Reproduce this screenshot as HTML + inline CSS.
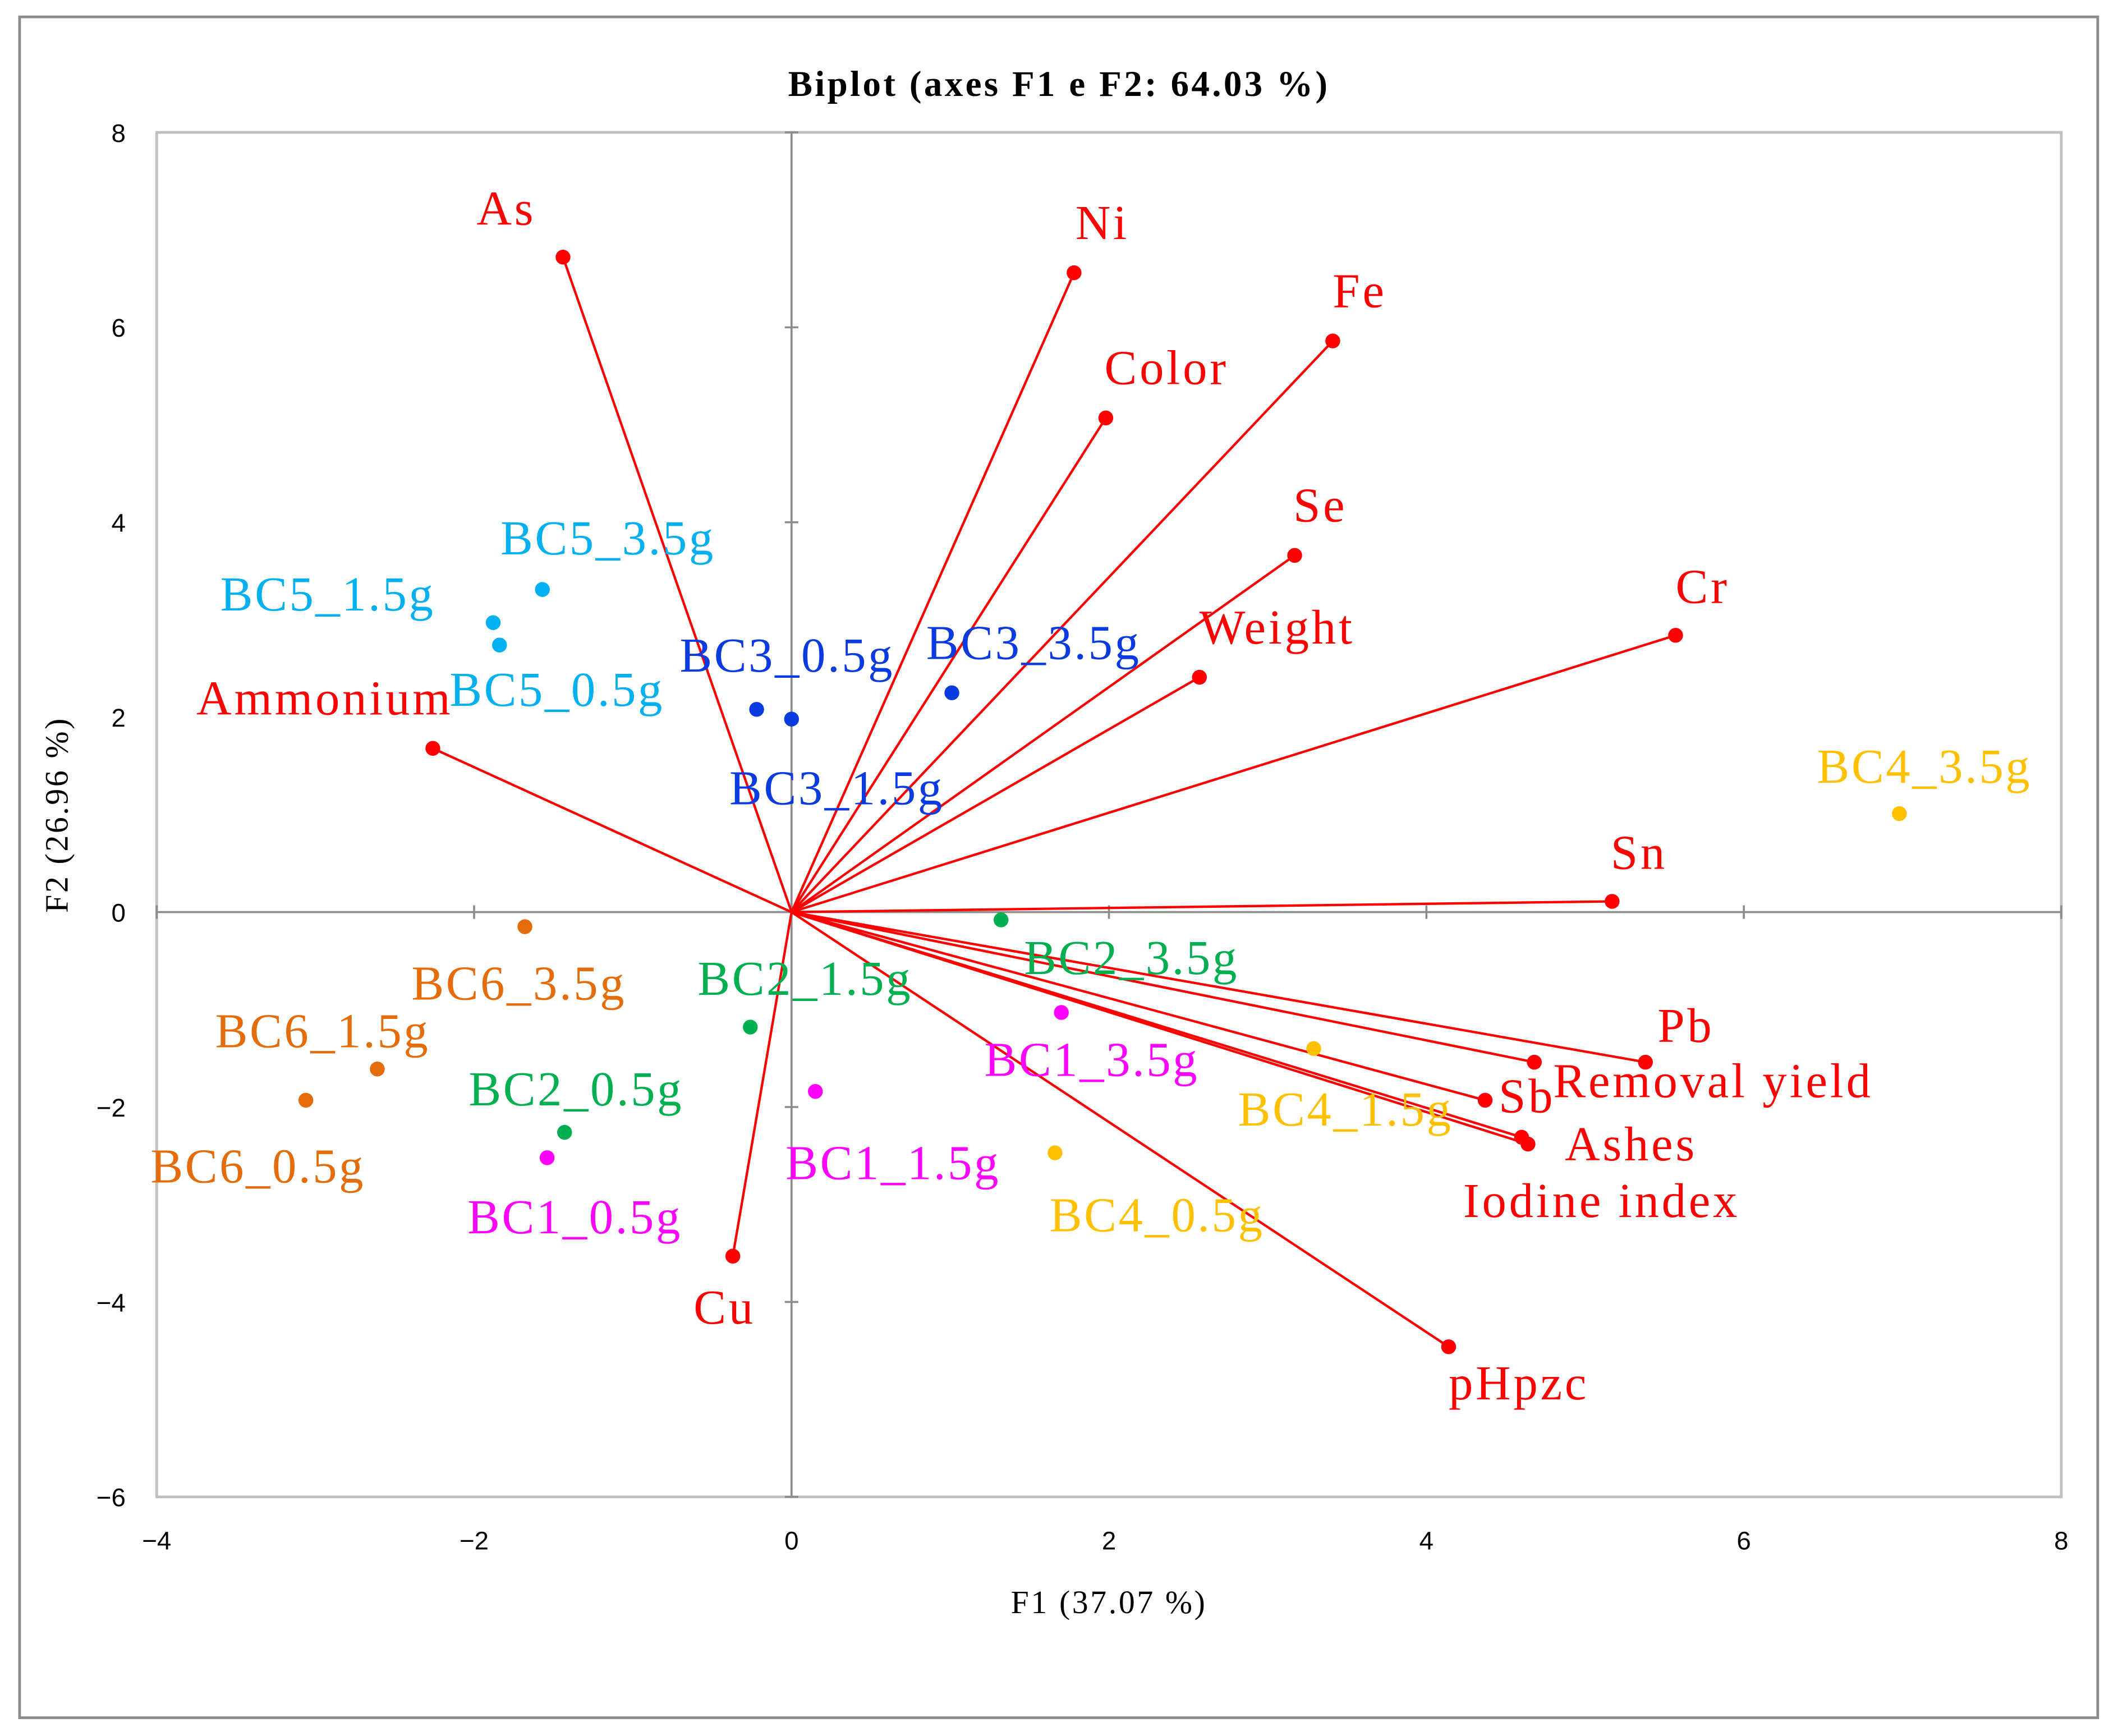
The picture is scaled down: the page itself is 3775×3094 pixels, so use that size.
<!DOCTYPE html>
<html><head><meta charset="utf-8"><style>
html,body{margin:0;padding:0;background:#fff;}
svg{display:block;}
</style></head><body>
<svg id="chart" xmlns="http://www.w3.org/2000/svg" width="3775" height="3094" viewBox="0 0 1568 1285" preserveAspectRatio="none">
<rect x="0" y="0" width="1568" height="1285" fill="#fff"/>
<rect x="14.5" y="12.5" width="1538.5" height="1259" fill="none" stroke="#8c8c8c" stroke-width="2"/>
<rect x="116" y="98" width="1410" height="1010" fill="none" stroke="#c0c0c0" stroke-width="2"/>
<text x="784" y="71" text-anchor="middle" font-family="Liberation Serif, serif" font-weight="bold" font-size="27" letter-spacing="1.8">Biplot (axes F1 e F2: 64.03 %)</text>
<text x="821" y="1194" text-anchor="middle" font-family="Liberation Serif, serif" font-size="24" letter-spacing="1.5">F1 (37.07 %)</text>
<text transform="translate(50,603) rotate(-90)" text-anchor="middle" font-family="Liberation Serif, serif" font-size="24" letter-spacing="1.5">F2 (26.96 %)</text>
<g id="axes"></g>
<g id="vectors"></g>
<g id="obs"></g>
</svg>
<script>
const xTicks=[-4,-2,0,2,4,6,8];
const yTicks=[8,6,4,2,0,-2,-4,-6];
const varNames=["As","Ni","Fe","Color","Se","Cr","Weight","Ammonium","Sn","Pb","Removal yield","Sb","Ashes","Iodine index","pHpzc","Cu"];
const varF1=[-1.44,1.78,3.41,1.98,3.17,5.57,2.57,-2.26,5.17,5.38,4.68,4.37,4.60,4.64,4.14,-0.37];
const varF2=[6.72,6.56,5.86,5.07,3.66,2.84,2.41,1.68,0.11,-1.54,-1.54,-1.93,-2.31,-2.38,-4.46,-3.53];
const varLabelDx=[-64,1,0,-1,-1,0,0,-175,-1,9,14,10,32,-48,0,-29];
const varLabelDy=[-24,-25,-25,-25,-25,-24,-25,-25,-24,-15,26,9,17,54,39,50];
const obsNames=["BC5_3.5g","BC5_1.5g","BC5_0.5g","BC3_0.5g","BC3_1.5g","BC3_3.5g","BC4_3.5g","BC4_1.5g","BC4_0.5g","BC2_3.5g","BC2_1.5g","BC2_0.5g","BC1_3.5g","BC1_1.5g","BC1_0.5g","BC6_3.5g","BC6_1.5g","BC6_0.5g"];
const obsF1=[-1.57,-1.88,-1.84,-0.22,0,1.01,6.98,3.29,1.66,1.32,-0.26,-1.43,1.70,0.15,-1.54,-1.68,-2.61,-3.06];
const obsF2=[3.31,2.97,2.74,2.08,1.98,2.25,1.01,-1.40,-2.47,-0.08,-1.18,-2.26,-1.03,-1.84,-2.52,-0.15,-1.61,-1.93];
const obsColors=["#00b0f0","#00b0f0","#00b0f0","#0a3be0","#0a3be0","#0a3be0","#ffc000","#ffc000","#ffc000","#00b050","#00b050","#00b050","#ff00ff","#ff00ff","#ff00ff","#e46c0a","#e46c0a","#e46c0a"];
const obsLabelDx=[-31,-202,-37,-57,-46,-19,-61,-56,-4,17,-39,-71,-57,-22,-59,-84,-120,-115];
const obsLabelDy=[-26,-9,45,-28,63,-25,-23,57,58,40,-24,-20,47,65,56,54,-16,61];

const NS="http://www.w3.org/2000/svg";
const L=116,R=1526,T=98,B=1108,XMIN=-4,XMAX=8,YMIN=-6,YMAX=8;
function sx(v){return L+(v-XMIN)/(XMAX-XMIN)*(R-L);}
function sy(v){return B-(v-YMIN)/(YMAX-YMIN)*(B-T);}
function mk(tag,attrs,parent){const e=document.createElementNS(NS,tag);for(const k in attrs)e.setAttribute(k,attrs[k]);parent.appendChild(e);return e;}
const axes=document.getElementById('axes'),vec=document.getElementById('vectors'),obs=document.getElementById('obs');
let zx=mk('line',{x1:sx(0),x2:sx(0),y1:T,y2:B,stroke:'#8c8c8c','stroke-width':1.5},axes);


let zy=mk('line',{x1:L,x2:R,y1:sy(0),y2:sy(0),stroke:'#8c8c8c','stroke-width':1.5},axes);


xTicks.forEach(t=>{
  let tk=mk('line',{x1:sx(t),x2:sx(t),y1:sy(0)-5,y2:sy(0)+5,stroke:'#8c8c8c','stroke-width':1.5},axes);
  
  
  let tl=mk('text',{x:sx(t),y:1147,'text-anchor':'middle','font-family':'Liberation Sans, sans-serif','font-size':19},axes);
  tl.textContent=t<0?'\u2212'+(-t):String(t);
  
  
});
yTicks.forEach(t=>{
  let tk=mk('line',{x1:sx(0)-5,x2:sx(0)+5,y1:sy(t),y2:sy(t),stroke:'#8c8c8c','stroke-width':1.5},axes);
  
  
  let tl=mk('text',{x:93,y:sy(t)+7,'text-anchor':'end','font-family':'Liberation Sans, sans-serif','font-size':19},axes);
  tl.textContent=t<0?'\u2212'+(-t):String(t);
  
  
});
varNames.forEach((n,i)=>{
  const x=sx(varF1[i]),y=sy(varF2[i]);
  let ln=mk('line',{x1:sx(0),y1:sy(0),x2:x,y2:y,stroke:'#ff0000','stroke-width':1.8},vec);
  
  
  let c=mk('circle',{cx:x,cy:y,r:5.5,fill:'#ff0000'},vec);
  
  
  let t=mk('text',{x:x+varLabelDx[i],y:y+varLabelDy[i],fill:'#ff0000','font-family':'Liberation Serif, serif','font-size':36,'letter-spacing':2},vec);
  t.textContent=n;
  
  
});
obsNames.forEach((n,i)=>{
  const x=sx(obsF1[i]),y=sy(obsF2[i]);
  let c=mk('circle',{cx:x,cy:y,r:5.5,fill:obsColors[i]},obs);
  
  
  let t=mk('text',{x:x+obsLabelDx[i],y:y+obsLabelDy[i],fill:obsColors[i],'font-family':'Liberation Serif, serif','font-size':36,'letter-spacing':1.5},obs);
  t.textContent=n;
  
  
});
</script>
</body></html>
